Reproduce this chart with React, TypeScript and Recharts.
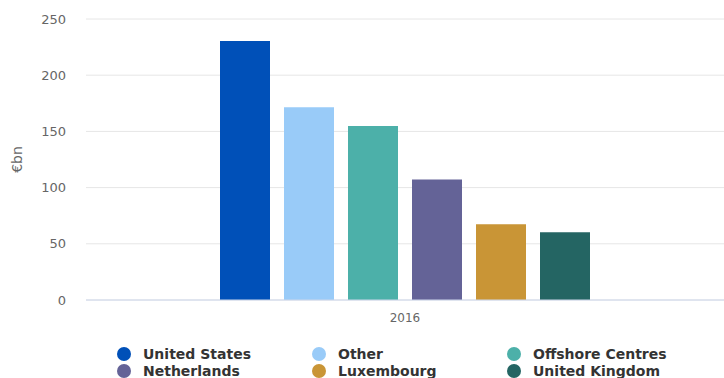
import { Bar, BarChart, CartesianGrid, XAxis, YAxis } from "recharts";

const categories = ["2016"];
const seriesNames = ["United States", "Other", "Offshore Centres", "Netherlands", "Luxembourg", "United Kingdom"];
const seriesValues = [230.5, 171.5, 154.8, 107.2, 67.4, 60.3];
const seriesColors = ["#0050b8", "#99cbf8", "#4cb0a9", "#646397", "#c99536", "#246563"];
const yTicks = [0, 50, 100, 150, 200, 250];

const data = categories.map((c) => {
  const row: Record<string, string | number> = { year: c };
  seriesNames.forEach((n, i) => (row[n] = seriesValues[i]));
  return row;
});

const font = "'DejaVu Sans', 'Lucida Grande', Arial, sans-serif";

function LegendBlock() {
  return (
    <div
      style={{
        position: "absolute",
        left: 117,
        top: 346,
        display: "grid",
        gridTemplateColumns: "195px 195px 195px",
        rowGap: 2,
        fontFamily: font,
        fontSize: 14,
        fontWeight: "bold",
        color: "#333",
      }}
    >
      {seriesNames.map((n, i) => (
        <div key={n} style={{ display: "flex", alignItems: "center", height: 15 }}>
          <span
            style={{
              width: 14,
              height: 14,
              borderRadius: "50%",
              background: seriesColors[i],
              marginRight: 12,
              flex: "none",
            }}
          />
          {n}
        </div>
      ))}
    </div>
  );
}

export default function App() {
  return (
    <div style={{ position: "absolute", left: 0, top: 0, width: 724, height: 378, background: "#fff" }}>
      <BarChart
        width={724}
        height={378}
        data={data}
        margin={{ top: 19, right: 0, left: 0, bottom: 48 }}
        barGap={14}
        barSize={50}
      >
        <CartesianGrid vertical={false} stroke="#e6e6e6" />
        <XAxis
          dataKey="year"
          height={30}
          axisLine={{ stroke: "#ccd6eb" }}
          tickLine={false}
          tickSize={0}
          tickMargin={13}
          tick={{ fill: "#666", fontSize: 12, fontFamily: font }}
        />
        <YAxis
          width={86}
          domain={[0, 250]}
          ticks={yTicks}
          axisLine={false}
          tickLine={false}
          tickSize={0}
          tickMargin={20}
          tick={{ fill: "#666", fontSize: 13, fontFamily: font }}
          label={{
            value: "€bn",
            angle: -90,
            position: "insideLeft",
            offset: 17,
            style: { textAnchor: "middle", fill: "#666", fontSize: 14, fontFamily: font },
          }}
        />
        {seriesNames.map((n, i) => (
          <Bar key={n} dataKey={n} fill={seriesColors[i]} isAnimationActive={false} />
        ))}
      </BarChart>
      <LegendBlock />
    </div>
  );
}
